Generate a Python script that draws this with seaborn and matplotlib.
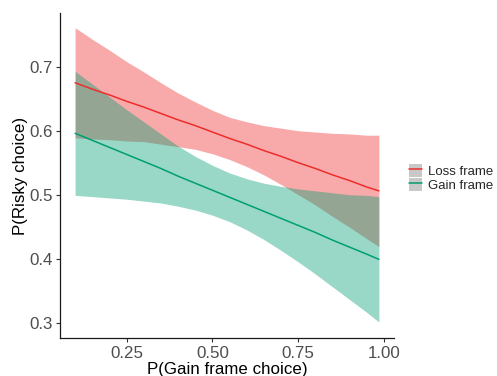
import pandas as pd
import matplotlib
matplotlib.use('Agg')
from matplotlib import pyplot as plt
from matplotlib.lines import Line2D
from matplotlib.patches import Patch
import seaborn as sns

# values
gain_choice = [0.10, 0.15, 0.20, 0.25, 0.30, 0.35, 0.40, 0.45, 0.50, 0.55,
               0.60, 0.65, 0.70, 0.75, 0.80, 0.85, 0.90, 0.95, 0.985]

loss_fit = [0.676, 0.666, 0.657, 0.647, 0.638, 0.628, 0.618, 0.609, 0.599, 0.589,
            0.580, 0.570, 0.561, 0.551, 0.542, 0.532, 0.523, 0.513, 0.507]
loss_lo = [0.590, 0.588, 0.587, 0.585, 0.584, 0.580, 0.576, 0.572, 0.565, 0.556,
           0.545, 0.532, 0.517, 0.501, 0.485, 0.467, 0.450, 0.432, 0.420]
loss_hi = [0.762, 0.744, 0.727, 0.709, 0.693, 0.676, 0.660, 0.646, 0.633, 0.622,
           0.615, 0.609, 0.605, 0.601, 0.599, 0.597, 0.596, 0.594, 0.594]

gain_fit = [0.597, 0.586, 0.575, 0.564, 0.553, 0.542, 0.530, 0.519, 0.508, 0.497,
            0.486, 0.475, 0.464, 0.453, 0.442, 0.430, 0.419, 0.408, 0.400]
gain_lo = [0.500, 0.498, 0.496, 0.494, 0.491, 0.488, 0.483, 0.477, 0.469, 0.459,
           0.446, 0.431, 0.414, 0.396, 0.377, 0.357, 0.337, 0.317, 0.302]
gain_hi = [0.694, 0.674, 0.654, 0.634, 0.615, 0.596, 0.577, 0.561, 0.547, 0.535,
           0.526, 0.519, 0.514, 0.510, 0.507, 0.504, 0.501, 0.500, 0.498]

frames = ['Loss frame', 'Gain frame']
colors = {'Loss frame': '#EE2C2C', 'Gain frame': '#009E73'}

x_ticks = [0.25, 0.50, 0.75, 1.00]
y_ticks = [0.3, 0.4, 0.5, 0.6, 0.7]

df = pd.concat([
    pd.DataFrame({'x': gain_choice, 'fit': loss_fit, 'lo': loss_lo, 'hi': loss_hi, 'Frame': 'Loss frame'}),
    pd.DataFrame({'x': gain_choice, 'fit': gain_fit, 'lo': gain_lo, 'hi': gain_hi, 'Frame': 'Gain frame'}),
])

sns.set_theme(style='ticks')
plt.rcParams['font.family'] = ['Liberation Sans', 'DejaVu Sans']

fig = plt.figure(figsize=(4.97, 3.76), dpi=100)
ax = fig.add_axes([0.1207, 0.101, 0.672, 0.8644])

# ribbon then line, group by group (as ggplot draws it)
for fr in frames:
    d = df[df['Frame'] == fr]
    ax.fill_between(d['x'], d['lo'], d['hi'], color=colors[fr], alpha=0.4, linewidth=0)
    sns.lineplot(data=d, x='x', y='fit', color=colors[fr], linewidth=1.1, ax=ax, legend=False)

ax.set_xlim(0.056, 1.029)
ax.set_ylim(0.277, 0.785)
ax.set_xticks(x_ticks)
ax.set_xticklabels(['0.25', '0.50', '0.75', '1.00'])
ax.set_yticks(y_ticks)
ax.set_yticklabels(['0.3', '0.4', '0.5', '0.6', '0.7'])

ax.tick_params(axis='both', labelsize=12.2, labelcolor='#4D4D4D', color='#333333',
               length=3.2, width=0.8, pad=2.2)
for side in ['top', 'right']:
    ax.spines[side].set_visible(False)
for side in ['left', 'bottom']:
    ax.spines[side].set_color('#1A1A1A')
    ax.spines[side].set_linewidth(0.9)

ax.set_xlabel('P(Gain frame choice)', fontsize=12.2, color='black', labelpad=1)
ax.set_ylabel('P(Risky choice)', fontsize=12.2, color='black', labelpad=0.5)

handles = [(Patch(facecolor='#C8C8C8', edgecolor='none'),
            Line2D([], [], color=colors[fr], linewidth=1.1)) for fr in frames]
leg = fig.legend(handles, frames, loc='center left', bbox_to_anchor=(0.812, 0.527),
                 frameon=False, fontsize=9.5, handlelength=1.0, handleheight=1.15,
                 handletextpad=0.45, labelspacing=0.0, borderaxespad=0)

fig.savefig('out.png', dpi=100)
